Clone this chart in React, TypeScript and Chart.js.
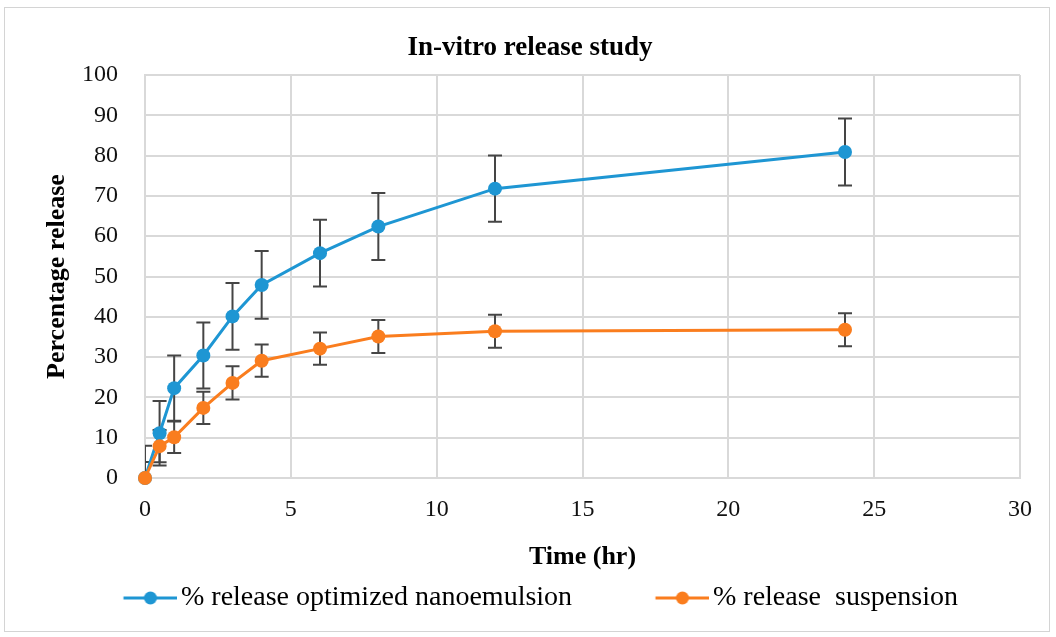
import React, { useEffect, useRef } from 'react';
import { Chart, registerables } from 'chart.js';

Chart.register(...registerables);

// Sampling times (hours)
const timeHours = [0, 0.5, 1, 2, 3, 4, 6, 8, 12, 24];
// Mean cumulative release (%) and standard deviations
const nanoemulsionRelease = [0, 11.1, 22.3, 30.4, 40.1, 47.9, 55.8, 62.4, 71.8, 80.9];
const nanoemulsionSD = [8, 8, 8.1, 8.2, 8.3, 8.4, 8.3, 8.3, 8.2, 8.3];
const suspensionRelease = [0, 7.9, 10.1, 17.4, 23.6, 29.1, 32.1, 35.1, 36.4, 36.8];
const suspensionSD = [4, 4, 3.9, 4, 4.1, 4, 4, 4.1, 4.1, 4.1];

const xTicks = [0, 5, 10, 15, 20, 25, 30];
const yTicks = [0, 10, 20, 30, 40, 50, 60, 70, 80, 90, 100];

const seriesLabels = ['% release optimized nanoemulsion', '% release  suspension'];
const seriesColors = ['#1E96D3', '#FA7D1E'];

const FONT = "'Liberation Serif', 'Times New Roman', serif";
const GRID = '#d9d9d9';
const LEGEND_SIZE = 28;

// Error bars (mean ± SD), clipped to the plot area
const errorBarPlugin = {
  id: 'errorBars',
  beforeDatasetsDraw(chart: any) {
    const { ctx, chartArea, scales } = chart;
    const xs = scales.x;
    const ys = scales.y;
    ctx.save();
    ctx.beginPath();
    ctx.rect(chartArea.left, chartArea.top, chartArea.right - chartArea.left, chartArea.bottom - chartArea.top);
    ctx.clip();
    ctx.strokeStyle = '#454545';
    ctx.lineWidth = 2;
    chart.data.datasets.forEach((ds: any) => {
      ds.data.forEach((pt: any, i: number) => {
        const e = ds.errors[i];
        const px = xs.getPixelForValue(pt.x);
        const top = ys.getPixelForValue(pt.y + e);
        const bottom = ys.getPixelForValue(pt.y - e);
        ctx.beginPath();
        ctx.moveTo(px, top);
        ctx.lineTo(px, bottom);
        ctx.moveTo(px - 7, top);
        ctx.lineTo(px + 7, top);
        ctx.moveTo(px - 7, bottom);
        ctx.lineTo(px + 7, bottom);
        ctx.stroke();
      });
    });
    ctx.restore();
  },
};

// Legend swatch: a short line with a dot, placed at the right end of the image
function makeSwatch(color: string, width: number) {
  const c = document.createElement('canvas');
  c.width = width;
  c.height = 16;
  const g = c.getContext('2d')!;
  const len = 54;
  g.strokeStyle = color;
  g.lineWidth = 3;
  g.beginPath();
  g.moveTo(width - len, 8);
  g.lineTo(width, 8);
  g.stroke();
  g.fillStyle = color;
  g.beginPath();
  g.arc(width - len / 2, 8, 6.5, 0, Math.PI * 2);
  g.fill();
  return c;
}

export default function App() {
  const canvasRef = useRef<HTMLCanvasElement | null>(null);

  useEffect(() => {
    const canvas = canvasRef.current;
    if (!canvas) return;

    // Legend spacing derived from the first label's measured width
    const m = document.createElement('canvas').getContext('2d')!;
    m.font = `${LEGEND_SIZE}px ${FONT}`;
    const t1 = m.measureText(seriesLabels[0]).width;
    const boxW = Math.max(60, 508 - t1);
    const swatchW = boxW + 20;
    const legendLeft = 167 - boxW - 10;

    const legendShift = {
      id: 'legendShift',
      afterLayout(chart: any) {
        const lg = chart.legend;
        if (!lg) return;
        const w = lg.right - lg.left;
        lg.left = legendLeft;
        lg.right = legendLeft + w;
      },
    };

    const makeData = (ys: number[]) => timeHours.map((t, i) => ({ x: t, y: ys[i] }));

    const chart = new Chart(canvas, {
      type: 'line',
      data: {
        datasets: [
          {
            label: seriesLabels[0],
            data: makeData(nanoemulsionRelease),
            errors: nanoemulsionSD,
            borderColor: seriesColors[0],
            backgroundColor: seriesColors[0],
            borderWidth: 3,
            pointRadius: 7,
            pointBorderWidth: 0,
            pointHoverRadius: 7,
            tension: 0,
            clip: false,
            order: 1,
          } as any,
          {
            label: seriesLabels[1],
            data: makeData(suspensionRelease),
            errors: suspensionSD,
            borderColor: seriesColors[1],
            backgroundColor: seriesColors[1],
            borderWidth: 3,
            pointRadius: 7,
            pointBorderWidth: 0,
            pointHoverRadius: 7,
            tension: 0,
            clip: false,
            order: 0,
          } as any,
        ],
      },
      options: {
        responsive: false,
        animation: false,
        events: [],
        layout: { padding: { top: 20, left: 40, right: 36, bottom: 15 } },
        plugins: {
          title: {
            display: true,
            text: 'In-vitro release study',
            color: '#000',
            font: { family: FONT, size: 27, weight: 'bold' },
            padding: { top: 12, bottom: 10.6 },
          },
          legend: {
            position: 'bottom',
            align: 'start',
            labels: {
              usePointStyle: true,
              pointStyleWidth: boxW,
              padding: 10,
              color: '#000',
              font: { family: FONT, size: LEGEND_SIZE },
              generateLabels: () =>
                seriesLabels.map((text, i) => ({
                  text,
                  datasetIndex: i,
                  hidden: false,
                  fontColor: '#000',
                  fillStyle: seriesColors[i],
                  strokeStyle: seriesColors[i],
                  lineWidth: 0,
                  pointStyle: makeSwatch(seriesColors[i], swatchW),
                })) as any,
            },
          },
          tooltip: { enabled: false },
        },
        scales: {
          x: {
            type: 'linear',
            min: 0,
            max: 30,
            afterBuildTicks: (s: any) => {
              s.ticks = xTicks.map((v) => ({ value: v }));
            },
            afterFit: (s: any) => {
              s.height = 96;
            },
            grid: { color: GRID, lineWidth: 2, drawTicks: false },
            border: { color: GRID, width: 2 },
            ticks: { padding: 17, color: '#111', font: { family: FONT, size: 24 }, maxRotation: 0 },
            title: {
              display: true,
              text: 'Time (hr)',
              color: '#000',
              font: { family: FONT, size: 26, weight: 'bold' },
              padding: { top: 0, bottom: 1 },
            },
          },
          y: {
            type: 'linear',
            min: 0,
            max: 100,
            afterBuildTicks: (s: any) => {
              s.ticks = yTicks.map((v) => ({ value: v }));
            },
            afterFit: (s: any) => {
              s.width = 105;
            },
            grid: { color: GRID, lineWidth: 2, drawTicks: false },
            border: { color: GRID, width: 2 },
            ticks: { padding: 27, color: '#111', font: { family: FONT, size: 24 } },
            title: {
              display: true,
              text: 'Percentage release',
              color: '#000',
              font: { family: FONT, size: 26, weight: 'bold' },
              padding: { top: 1.4, bottom: 0 },
            },
          },
        },
      } as any,
      plugins: [errorBarPlugin, legendShift],
    });

    return () => chart.destroy();
  }, []);

  return (
    <div style={{ position: 'absolute', left: 0, top: 0, width: 1056, height: 637, background: '#fff' }}>
      <div
        style={{
          position: 'absolute',
          left: 4,
          top: 7,
          width: 1046,
          height: 625,
          border: '1px solid #d4d4d4',
          boxSizing: 'border-box',
        }}
      />
      <canvas
        ref={canvasRef}
        width={1056}
        height={637}
        style={{ position: 'absolute', left: 0, top: 0, width: 1056, height: 637 }}
      />
    </div>
  );
}
